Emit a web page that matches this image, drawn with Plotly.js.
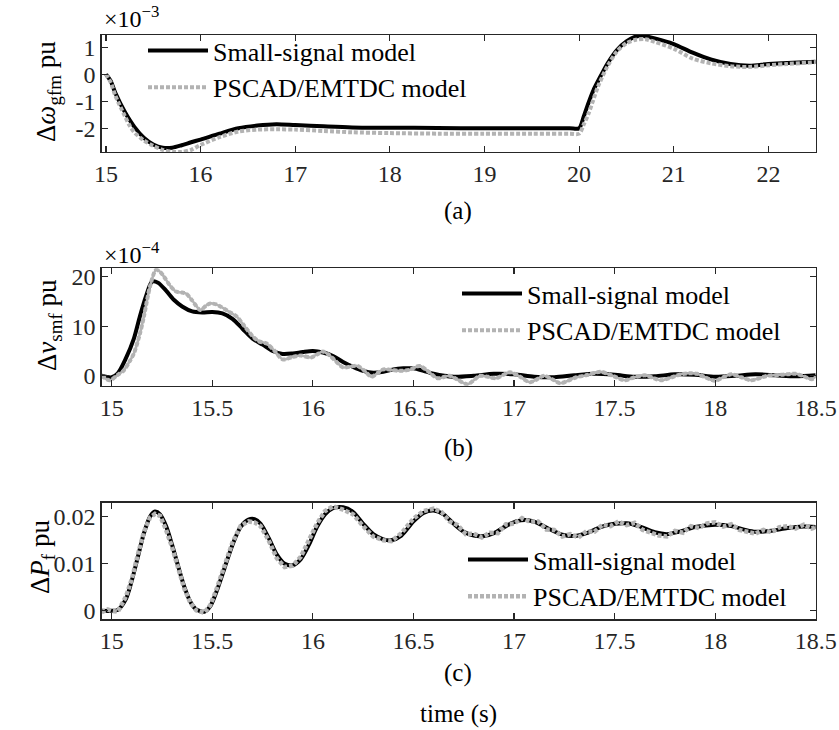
<!DOCTYPE html>
<html>
<head>
<meta charset="utf-8">
<script src="https://cdn.plot.ly/plotly-3.0.1.min.js"></script>
<style>html,body{margin:0;padding:0;background:#fff}#chart{width:839px;height:730px}</style>
</head>
<body>
<div id="chart"></div>
<script>
// ---------- Data ----------
// (a) Δω_gfm (×1e-3 pu)
const tA_ss = [15.0,15.05,15.1,15.2,15.3,15.4,15.5,15.6,15.7,15.8,15.9,16.0,16.2,16.4,16.6,16.8,17.0,17.3,17.6,18.0,18.5,19.0,19.5,19.9,20.0,20.05,20.1,20.15,20.2,20.3,20.4,20.5,20.6,20.66,20.8,21.0,21.2,21.4,21.6,21.8,22.0,22.2,22.5];
const wA_ss = [0,-0.25,-0.7,-1.4,-1.95,-2.35,-2.6,-2.72,-2.72,-2.63,-2.52,-2.42,-2.2,-2.0,-1.9,-1.85,-1.88,-1.93,-1.97,-1.98,-1.99,-2.0,-2.0,-2.0,-2.0,-1.55,-1.05,-0.6,-0.25,0.4,0.9,1.22,1.4,1.43,1.33,1.12,0.8,0.54,0.38,0.32,0.38,0.42,0.46];
const tA_em = [15.0,15.05,15.1,15.2,15.25,15.3,15.4,15.5,15.6,15.7,15.8,15.9,16.0,16.2,16.4,16.6,16.8,17.0,17.3,17.6,18.0,18.5,19.0,19.5,19.9,20.0,20.05,20.1,20.2,20.3,20.4,20.5,20.6,20.7,20.8,21.0,21.2,21.4,21.6,21.8,22.0,22.2,22.5];
const wA_em = [0,-0.3,-0.8,-1.55,-1.9,-2.15,-2.45,-2.65,-2.8,-2.87,-2.88,-2.8,-2.62,-2.33,-2.12,-2.05,-2.04,-2.05,-2.1,-2.15,-2.18,-2.2,-2.2,-2.2,-2.2,-2.2,-1.85,-1.45,-0.45,0.3,0.85,1.15,1.28,1.3,1.2,0.95,0.58,0.4,0.3,0.27,0.33,0.38,0.45];

// (b) Δv_smf (×1e-4 pu)
const tB_ss = [14.95,15.0,15.03,15.07,15.11,15.14,15.17,15.2,15.23,15.27,15.31,15.35,15.4,15.45,15.5,15.55,15.6,15.65,15.7,15.75,15.8,15.85,15.9,15.95,16.0,16.05,16.1,16.15,16.2,16.25,16.3,16.35,16.4,16.45,16.5,16.55,16.6,16.7,16.8,16.9,17.0,17.1,17.2,17.3,17.4,17.5,17.6,17.7,17.8,17.9,18.0,18.1,18.2,18.3,18.4,18.5];
const vB_ss = [0,-0.3,0.5,3.5,7.5,12,16,19,18.8,17.2,15.3,14,13,12.8,12.9,12.6,11.5,9.5,7.5,6.3,5.0,4.4,4.5,4.8,5.0,4.7,4.0,2.8,1.8,1.0,0.6,0.8,1.3,1.5,1.5,1.0,0.4,-0.2,0.0,0.4,0.3,-0.2,-0.3,0.1,0.4,0.2,-0.2,-0.1,0.3,0.2,-0.2,0.0,0.3,0.1,-0.1,0.1];
const tB_em = [14.95,14.99,15.03,15.06,15.09,15.11,15.14,15.16,15.19,15.22,15.24,15.26,15.29,15.32,15.35,15.37,15.4,15.44,15.47,15.49,15.52,15.54,15.58,15.62,15.66,15.7,15.73,15.77,15.81,15.85,15.9,15.94,15.99,16.02,16.05,16.08,16.1,16.15,16.19,16.22,16.26,16.29,16.32,16.35,16.39,16.43,16.48,16.53,16.57,16.62,16.68,16.72,16.77,16.83,16.87,16.91,16.98,17.03,17.08,17.15,17.19,17.23,17.31,17.37,17.43,17.49,17.55,17.6,17.65,17.69,17.73,17.83,17.87,17.91,17.95,18.0,18.04,18.08,18.13,18.18,18.26,18.33,18.4,18.44,18.48,18.5];
const vB_em = [0,-0.9,0.2,1.1,3,4.5,8.5,12,18,21.4,21,20,18.2,17,16.8,16.6,15.2,13.3,14.2,14.6,14.4,14,13,12,10,8,7,6.5,5,3.3,3.8,4.1,3.7,4.3,4.9,4.2,3.5,1.7,1.9,2.0,0.9,-0.2,0.5,1.3,1.2,1.0,1.2,2.0,1.0,-0.5,0,-0.8,-1.7,0,-0.2,-0.5,0.7,-0.2,-1.3,0,-0.7,-1.5,-0.3,0.2,0.8,0,-0.9,-0.3,0.1,-0.4,-0.9,0.3,0.5,0.4,-0.3,-1.0,-0.3,0.3,-0.3,-0.9,0,0.2,0.4,-0.1,-0.7,-0.1];

// (c) ΔP_f (pu)
const tC_ss = [14.95,15.0,15.03,15.07,15.1,15.13,15.16,15.19,15.215,15.24,15.27,15.3,15.33,15.36,15.39,15.42,15.46,15.49,15.52,15.56,15.6,15.64,15.68,15.71,15.74,15.78,15.82,15.86,15.9,15.94,15.98,16.02,16.06,16.1,16.15,16.2,16.25,16.3,16.35,16.39,16.44,16.5,16.55,16.6,16.65,16.7,16.75,16.8,16.85,16.9,16.96,17.01,17.06,17.11,17.17,17.24,17.3,17.36,17.43,17.5,17.56,17.62,17.7,17.76,17.82,17.9,18.0,18.08,18.15,18.2,18.28,18.36,18.44,18.5];
const pC_ss = [0.0000,0.0000,0.0002,0.0025,0.0065,0.0115,0.0165,0.0200,0.0211,0.0205,0.0180,0.0140,0.0095,0.0052,0.0020,0.0003,-0.0002,0.0010,0.0040,0.0090,0.0140,0.0178,0.0194,0.0195,0.0185,0.0155,0.0120,0.0100,0.0097,0.0110,0.0140,0.0178,0.0205,0.0218,0.0220,0.0210,0.0185,0.0163,0.0152,0.0150,0.0160,0.0190,0.0208,0.0213,0.0205,0.0185,0.0168,0.0160,0.0159,0.0165,0.0180,0.0190,0.0193,0.0188,0.0175,0.0162,0.0159,0.0165,0.0178,0.0185,0.0186,0.0180,0.0167,0.0163,0.0168,0.0178,0.0183,0.0180,0.0172,0.0168,0.0170,0.0176,0.0179,0.0178];
const tC_em = [14.95,14.98,15.0,15.03,15.07,15.1,15.13,15.16,15.19,15.215,15.24,15.27,15.3,15.33,15.36,15.39,15.42,15.46,15.49,15.52,15.56,15.6,15.64,15.68,15.71,15.74,15.78,15.82,15.86,15.9,15.94,15.98,16.02,16.06,16.1,16.15,16.2,16.25,16.3,16.35,16.39,16.44,16.5,16.55,16.6,16.64,16.68,16.72,16.76,16.8,16.84,16.88,16.92,16.96,17.0,17.04,17.08,17.12,17.16,17.2,17.24,17.28,17.32,17.36,17.4,17.44,17.48,17.52,17.56,17.6,17.64,17.68,17.72,17.76,17.8,17.84,17.88,17.92,17.96,18.0,18.04,18.08,18.12,18.16,18.2,18.24,18.28,18.32,18.36,18.4,18.44,18.48,18.5];
const pC_em = [-0.0003,0.0003,0.0000,-0.0002,0.0030,0.0068,0.0120,0.0168,0.0198,0.0206,0.0202,0.0172,0.0135,0.0090,0.0048,0.0018,0.0001,-0.0004,0.0012,0.0045,0.0095,0.0145,0.0180,0.0190,0.0188,0.0180,0.0150,0.0112,0.0093,0.0096,0.0115,0.0148,0.0185,0.0212,0.0222,0.0215,0.0205,0.0180,0.0158,0.0150,0.0148,0.0165,0.0196,0.0212,0.0217,0.0210,0.0190,0.0182,0.0163,0.0164,0.0156,0.0166,0.0165,0.0184,0.0185,0.0197,0.0189,0.0190,0.0173,0.0172,0.0158,0.0163,0.0156,0.0169,0.0168,0.0183,0.0180,0.0190,0.0182,0.0187,0.0172,0.0166,0.0160,0.0158,0.0170,0.0166,0.0180,0.0176,0.0186,0.0188,0.0179,0.0184,0.0172,0.0168,0.0164,0.0172,0.0167,0.0178,0.0180,0.0175,0.0183,0.0175,0.0178];

// Tick labels
const ticksA_x = [15,16,17,18,19,20,21,22];
const ticksA_y = [-2,-1,0,1];
const ticksA_yText = ['-2','-1','0','1'];
const ticksBC_x = [15,15.5,16,16.5,17,17.5,18,18.5];
const ticksB_y = [0,10,20];
const ticksC_y = [0,0.01,0.02];
const ticksC_yText = ['0','0.01','0.02'];
const names = ['Small-signal model','PSCAD/EMTDC model'];

// ---------- Styling ----------
const W = 839, H = 730;
const FONT = 'Liberation Serif';
const AX = '#262626';
const BLACK = '#000000';
const GRAY = '#b3b3b3';
const px = v => v / W, py = v => 1 - v / H;
const xdom = [px(101.7), px(815.7)];

function axisX(range, tv, anchor) {
  return {domain: xdom, range: range, anchor: anchor, tickvals: tv, ticktext: tv.map(String),
    ticks: 'inside', ticklen: 6, tickwidth: 1.2, tickcolor: AX, mirror: 'allticks', showline: true,
    linecolor: AX, linewidth: 1.3, showgrid: false, zeroline: false,
    tickfont: {family: FONT, size: 24, color: AX}, fixedrange: true};
}
function axisY(range, tv, tt, dom, anchor) {
  return {domain: dom, range: range, anchor: anchor, tickvals: tv, ticktext: tt,
    ticks: 'inside', ticklen: 6, tickwidth: 1.2, tickcolor: AX, mirror: 'allticks', showline: true,
    linecolor: AX, linewidth: 1.3, showgrid: false, zeroline: false,
    tickfont: {family: FONT, size: 24, color: AX}, fixedrange: true};
}

const SM = 0.8;
const traces = [
  {x: tA_ss, y: wA_ss, xaxis: 'x', yaxis: 'y', name: names[0], legend: 'legend', mode: 'lines',
   line: {color: BLACK, width: 4, shape: 'spline', smoothing: SM}},
  {x: tA_em, y: wA_em, xaxis: 'x', yaxis: 'y', name: names[1], legend: 'legend', mode: 'lines',
   line: {color: GRAY, width: 4, dash: '4px,2px', shape: 'spline', smoothing: SM}},

  {x: tB_ss, y: vB_ss, xaxis: 'x2', yaxis: 'y2', name: names[0], legend: 'legend2', mode: 'lines',
   line: {color: BLACK, width: 4, shape: 'spline', smoothing: SM}},
  {x: tB_em, y: vB_em, xaxis: 'x2', yaxis: 'y2', name: names[1], legend: 'legend2', mode: 'lines',
   line: {color: GRAY, width: 4, dash: '4px,2px', shape: 'spline', smoothing: SM}},
  {x: tB_em, y: vB_em, xaxis: 'x2', yaxis: 'y2', name: names[1], showlegend: false, mode: 'lines',
   line: {color: GRAY, width: 2.6, shape: 'spline', smoothing: SM}, hoverinfo: 'skip'},

  {x: tC_ss, y: pC_ss, xaxis: 'x3', yaxis: 'y3', name: names[0], legend: 'legend3', mode: 'lines',
   line: {color: BLACK, width: 4, shape: 'spline', smoothing: SM}},
  {x: tC_em, y: pC_em, xaxis: 'x3', yaxis: 'y3', name: names[1], legend: 'legend3', mode: 'lines',
   line: {color: GRAY, width: 4.5, dash: '4px,2px', shape: 'linear'}}
];

function leg(xl, ytop) {
  return {x: px(xl), y: py(ytop), xanchor: 'left', yanchor: 'top', bgcolor: 'rgba(0,0,0,0)',
    borderwidth: 0, font: {family: FONT, size: 26, color: '#000'}, tracegroupgap: 0, itemwidth: 60};
}

const ann = (x, y, text, size, extra) => Object.assign({xref: 'paper', yref: 'paper', x: px(x), y: py(y),
  text: text, showarrow: false, font: {family: FONT, size: size, color: '#000'}, xanchor: 'center', yanchor: 'middle'}, extra || {});

const layout = {
  width: W, height: H, margin: {l: 0, r: 0, t: 0, b: 0}, paper_bgcolor: '#fff', plot_bgcolor: '#fff',
  font: {family: FONT},
  xaxis: axisX([14.955, 22.5], ticksA_x, 'y'),
  yaxis: axisY([-2.88, 1.455], ticksA_y, ticksA_yText, [py(152), py(35)], 'x'),
  xaxis2: axisX([14.95, 18.5], ticksBC_x, 'y2'),
  yaxis2: axisY([-2.0, 21.7], ticksB_y, ticksB_y.map(String), [py(385.7), py(268.3)], 'x2'),
  xaxis3: axisX([14.95, 18.5], ticksBC_x, 'y3'),
  yaxis3: axisY([-0.0018, 0.02298], ticksC_y, ticksC_yText, [py(619.3), py(502.7)], 'x3'),
  legend: leg(143, 27),
  legend2: leg(457, 270),
  legend3: leg(463, 536),
  showlegend: true,
  annotations: [
    ann(48, 92, 'Δ<i>ω</i><sub>gfm</sub> pu', 27, {textangle: -90}),
    ann(49, 325, 'Δ<i>v</i><sub>smf</sub> pu', 27, {textangle: -90}),
    ann(42, 557, 'Δ<i>P</i><sub>f</sub> pu', 27, {textangle: -90}),
    ann(102, 17, '×10<sup>−3</sup>', 24, {xanchor: 'left'}),
    ann(102, 253, '×10<sup>−4</sup>', 24, {xanchor: 'left'}),
    ann(458, 211, '(a)', 25),
    ann(458, 448, '(b)', 25),
    ann(458, 673, '(c)', 25),
    ann(458, 714, 'time (s)', 25)
  ]
};

Plotly.newPlot('chart', traces, layout, {staticPlot: true, displayModeBar: false});
</script>
</body>
</html>
